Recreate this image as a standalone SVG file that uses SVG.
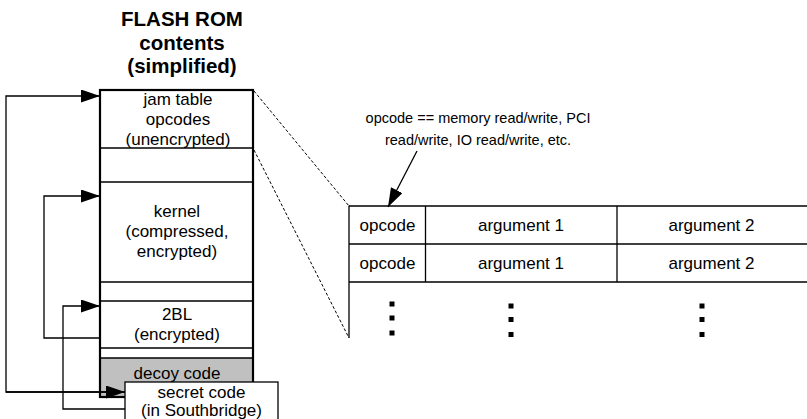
<svg xmlns="http://www.w3.org/2000/svg" width="807" height="419" viewBox="0 0 807 419">
<style>
text{font-family:"Liberation Sans",Arial,sans-serif;fill:#000;text-anchor:middle}
.t{font-size:17px}
.ttl{font-size:20.5px;font-weight:bold}
.ann{font-size:14.5px}
.ln{stroke:#000;stroke-width:1.3;fill:none}
.bx{stroke:#000;stroke-width:2.2;fill:none}
.dash{stroke:#000;stroke-width:1;stroke-dasharray:3,2;fill:none}
.dot{fill:#000}
</style>
<defs>
<marker id="ah" markerUnits="userSpaceOnUse" markerWidth="20" markerHeight="14" refX="19" refY="6.5" orient="auto">
<path d="M0,0 L19,6.5 L0,13 z" fill="#000"/>
</marker>
</defs>

<g id="title">
<text class="ttl" x="182" y="26">FLASH ROM</text>
<text class="ttl" x="182" y="49.5">contents</text>
<text class="ttl" x="182" y="73">(simplified)</text>
</g>

<g id="flash-rom">
<rect x="100" y="358" width="153" height="39" fill="#c0c0c0"/>
<line class="ln" x1="100" y1="148" x2="253" y2="148"/>
<line class="ln" x1="100" y1="182" x2="253" y2="182"/>
<line class="ln" x1="100" y1="282" x2="253" y2="282"/>
<line class="ln" x1="100" y1="301" x2="253" y2="301"/>
<line class="ln" x1="100" y1="348" x2="253" y2="348"/>
<line class="ln" x1="100" y1="358" x2="253" y2="358"/>
<rect class="bx" x="100" y="90" width="153" height="307"/>
</g>

<g id="jam-table">
<text class="t" x="178" y="105">jam table</text>
<text class="t" x="178" y="125">opcodes</text>
<text class="t" x="178" y="145">(unencrypted)</text>
</g>
<g id="kernel">
<text class="t" x="177" y="217">kernel</text>
<text class="t" x="177" y="237">(compressed,</text>
<text class="t" x="177" y="257">encrypted)</text>
</g>
<g id="2bl">
<text class="t" x="177" y="320">2BL</text>
<text class="t" x="177" y="340">(encrypted)</text>
</g>
<g id="decoy">
<text class="t" x="177" y="379">decoy code</text>
</g>

<g id="connectors">
<polyline class="ln" points="125,392 6,392 6,96 100,96" marker-end="url(#ah)"/>
<line class="ln" x1="6" y1="392" x2="125" y2="392" marker-end="url(#ah)"/>
<polyline class="ln" points="100,338 44,338 44,196 100,196" marker-end="url(#ah)"/>
<polyline class="ln" points="125,409 63,409 63,306 100,306" marker-end="url(#ah)"/>
<line class="dash" x1="254" y1="91" x2="349" y2="206"/>
<line class="dash" x1="254" y1="150" x2="349" y2="338"/>
<line class="ln" x1="417" y1="151" x2="388" y2="207" marker-end="url(#ah)"/>
</g>

<g id="secret-code">
<rect x="125" y="382" width="153" height="42" fill="#fff" stroke="#000" stroke-width="1.3"/>
<text class="t" x="201.5" y="398">secret code</text>
<text class="t" x="201.5" y="416">(in Southbridge)</text>
</g>

<g id="annotation">
<text class="ann" x="478" y="123">opcode == memory read/write, PCI</text>
<text class="ann" x="478" y="145">read/write, IO read/write, etc.</text>
</g>

<g id="opcode-table">
<line class="ln" x1="349" y1="206" x2="807" y2="206"/>
<line class="ln" x1="349" y1="244" x2="807" y2="244"/>
<line class="ln" x1="349" y1="282" x2="807" y2="282"/>
<line class="ln" x1="349" y1="205.4" x2="349" y2="338"/>
<line class="ln" x1="425.5" y1="206" x2="425.5" y2="282"/>
<line class="ln" x1="617" y1="206" x2="617" y2="282"/>
<text class="t" x="387.5" y="230.5">opcode</text>
<text class="t" x="521" y="230.5">argument 1</text>
<text class="t" x="711.5" y="230.5">argument 2</text>
<text class="t" x="387.5" y="268.5">opcode</text>
<text class="t" x="521" y="268.5">argument 1</text>
<text class="t" x="711.5" y="268.5">argument 2</text>
<rect class="dot" x="389.5" y="301.5" width="5" height="5"/>
<rect class="dot" x="389.5" y="315.5" width="5" height="5"/>
<rect class="dot" x="389.5" y="330.5" width="5" height="5"/>
<rect class="dot" x="508.5" y="303.5" width="5" height="5"/>
<rect class="dot" x="508.5" y="317" width="5" height="5"/>
<rect class="dot" x="508.5" y="332" width="5" height="5"/>
<rect class="dot" x="699.5" y="303.5" width="5" height="5"/>
<rect class="dot" x="699.5" y="317" width="5" height="5"/>
<rect class="dot" x="699.5" y="332" width="5" height="5"/>
</g>
</svg>
